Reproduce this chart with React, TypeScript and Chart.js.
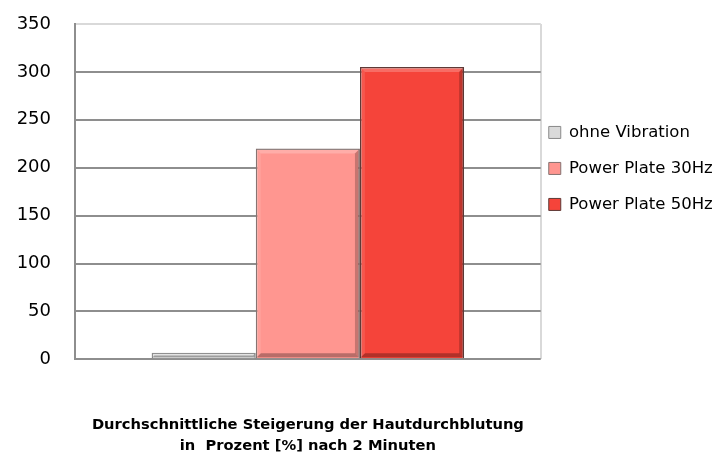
import React, { useEffect, useRef } from "react";
import { Chart, registerables } from "chart.js";

Chart.register(...registerables);

const categories = [""];
const seriesNames = ["ohne Vibration", "Power Plate 30Hz", "Power Plate 50Hz"];
const ohneVibration = [7];
const powerPlate30 = [220];
const powerPlate50 = [305];
const yMin = 0;
const yMax = 350;
const yStep = 50;
const xTitle = [
  "Durchschnittliche Steigerung der Hautdurchblutung",
  "in  Prozent [%] nach 2 Minuten",
];

const fills = ["#dadada", "#ff9690", "#f5443a"];
const borders = ["#8a8a8a", "#857270", "#5e3a37"];

const bevelPlugin = {
  id: "bevel",
  afterDatasetsDraw(chart: any) {
    const ctx = chart.ctx;
    chart.data.datasets.forEach((_: any, di: number) => {
      const meta = chart.getDatasetMeta(di);
      meta.data.forEach((el: any) => {
        const p = el.getProps(["x", "y", "base", "width"], true);
        const l = p.x - p.width / 2 + 1;
        const r = p.x + p.width / 2 - 1;
        const t = Math.min(p.y, p.base) + 1;
        const b = Math.max(p.y, p.base) - 1;
        const d = Math.min(4, (b - t) / 2, (r - l) / 2);
        ctx.save();
        ctx.fillStyle = "rgba(255,255,255,0.22)";
        ctx.beginPath();
        ctx.moveTo(l, t); ctx.lineTo(r, t); ctx.lineTo(r - d, t + d); ctx.lineTo(l + d, t + d);
        ctx.closePath(); ctx.fill();
        ctx.fillStyle = "rgba(255,255,255,0.1)";
        ctx.beginPath();
        ctx.moveTo(l, t); ctx.lineTo(l + d, t + d); ctx.lineTo(l + d, b - d); ctx.lineTo(l, b);
        ctx.closePath(); ctx.fill();
        ctx.fillStyle = "rgba(0,0,0,0.22)";
        ctx.beginPath();
        ctx.moveTo(r, t); ctx.lineTo(r, b); ctx.lineTo(r - d, b - d); ctx.lineTo(r - d, t + d);
        ctx.closePath(); ctx.fill();
        ctx.fillStyle = "rgba(0,0,0,0.28)";
        ctx.beginPath();
        ctx.moveTo(l, b); ctx.lineTo(r, b); ctx.lineTo(r - d, b - d); ctx.lineTo(l + d, b - d);
        ctx.closePath(); ctx.fill();
        ctx.restore();
      });
    });
  },
};

export default function App() {
  const ref = useRef<HTMLCanvasElement | null>(null);
  useEffect(() => {
    if (!ref.current) return;
    const values = [ohneVibration, powerPlate30, powerPlate50];
    const chart = new Chart(ref.current, {
      type: "bar",
      plugins: [bevelPlugin],
      data: {
        labels: categories,
        datasets: seriesNames.map((name, i) => ({
          label: name,
          data: values[i],
          backgroundColor: fills[i],
          borderColor: borders[i],
          borderWidth: 1.5,
          barPercentage: 1,
          categoryPercentage: 0.671,
        })),
      },
      options: {
        animation: false,
        responsive: true,
        maintainAspectRatio: false,
        layout: { padding: { top: 0, left: 0, right: 0, bottom: 0 } },
        plugins: {
          tooltip: { enabled: false },
          legend: {
            position: "right",
            align: "start",
            title: {
              display: true,
              text: "",
              font: { size: 1 },
              padding: { top: 115, bottom: 0 },
            },
            labels: {
              boxWidth: 12,
              boxHeight: 12,
              padding: 8,
              color: "#000",
              font: { family: "DejaVu Sans", size: 16.5, lineHeight: 28 / 16.5 },
              generateLabels: (c: any) =>
                c.data.datasets.map((ds: any, i: number) => ({
                  text: [ds.label],
                  fillStyle: fills[i],
                  strokeStyle: borders[i],
                  fontColor: "#000",
                  lineWidth: 1,
                  hidden: false,
                  datasetIndex: i,
                })),
            },
          },
        },
        scales: {
          x: {
            grid: {
              display: true,
              offset: true,
              drawTicks: false,
              color: "#d9d9d9",
              lineWidth: 2,
            },
            border: { display: false },
            ticks: { display: false },
            title: {
              display: true,
              text: xTitle,
              color: "#000",
              font: { family: "DejaVu Sans", size: 14.7, weight: "bold", lineHeight: 1.45 },
              padding: { top: 55, bottom: 0 },
            },
          },
          y: {
            min: yMin,
            max: yMax,
            afterFit: (scale: any) => {
              scale.width = 75;
              scale.paddingTop = 24;
              scale.paddingBottom = 11;
            },
            ticks: {
              stepSize: yStep,
              color: "#000",
              padding: 24,
              font: { family: "DejaVu Sans", size: 18 },
            },
            grid: {
              drawTicks: false,
              lineWidth: 2,
              color: (ctx: any) => (ctx.tick && ctx.tick.value === yMax ? "#d9d9d9" : "#8e8e8e"),
            },
            border: { display: true, color: "#8e8e8e", width: 2 },
          },
        },
      },
    });
    return () => chart.destroy();
  }, []);
  return (
    <div style={{ position: "absolute", left: 0, top: 0, width: 721, height: 457, background: "#fff" }}>
      <canvas ref={ref} />
    </div>
  );
}
